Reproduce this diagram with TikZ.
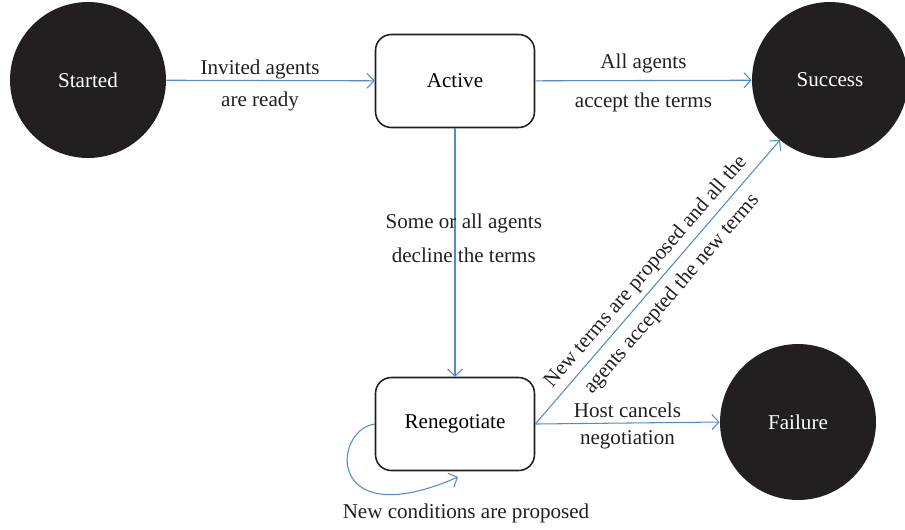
\documentclass[tikz,border=0pt]{standalone}
\usepackage{fontspec}
\setmainfont{Liberation Serif}
\usetikzlibrary{arrows.meta}
\definecolor{linkblue}{RGB}{80,140,205}
\definecolor{stateblack}{RGB}{35,31,32}
\tikzset{>={Straight Barb[length=1.4mm,width=3mm]}}
\tikzset{endstate/.style = {shape=circle,fill=stateblack,text=white,minimum size=3.12cm,inner sep=0pt,font=\fontsize{12}{14}\selectfont}}
\tikzset{midstate/.style = {shape=rectangle,rounded corners=9pt,draw=stateblack,line width=0.9pt,minimum width=3.18cm,minimum height=1.86cm,font=\fontsize{12}{14}\selectfont}}
\tikzset{link/.style = {->,draw=linkblue,line width=0.6pt}}
\tikzset{lbl/.style = {font=\fontsize{12}{14}\selectfont,text=stateblack,inner sep=1pt}}

\begin{document}
\begin{tikzpicture}[x=0.02cm,y=-0.02cm]
    \useasboundingbox (0,0) rectangle (905,529);

    \node[endstate] (St) at (88,80) {Started};
    \node[midstate] (Ac) at (455,81) {Active};
    \node[endstate] (Su) at (830,80) {Success};
    \node[midstate] (Re) at (455,424) {Renegotiate};
    \node[endstate] (Fa) at (798,422) {Failure};

    \draw[link] (St) -- node[lbl,pos=0.45,above=-0.5pt] {Invited agents} node[lbl,pos=0.45,below=5pt] {are ready} (Ac);
    \draw[link] (Ac) -- node[lbl,above=3pt] {All agents} node[lbl,below=6pt] {accept the terms} (Su);
    \draw[link] (Ac) -- node[lbl,pos=0.385,xshift=5pt] {Some or all agents} node[lbl,pos=0.51,xshift=5pt] {decline the terms} (Re);
    \draw[link] (Re.east) -- node[lbl,sloped,above=2pt] {New terms are proposed and all the} node[lbl,sloped,below=4pt] {agents accepted the new terms} (780,140);
    \draw[link] (Re.east) -- node[lbl,above=1.5pt] {Host cancels} node[lbl,below=3pt] {negotiation} (Fa.west);
    \draw[link] (Re.west) .. controls (332,430) and (325,535) .. (458,477);
    \node[lbl] (NewCond) at (466,513) {New conditions are proposed};
\end{tikzpicture}
\end{document}
